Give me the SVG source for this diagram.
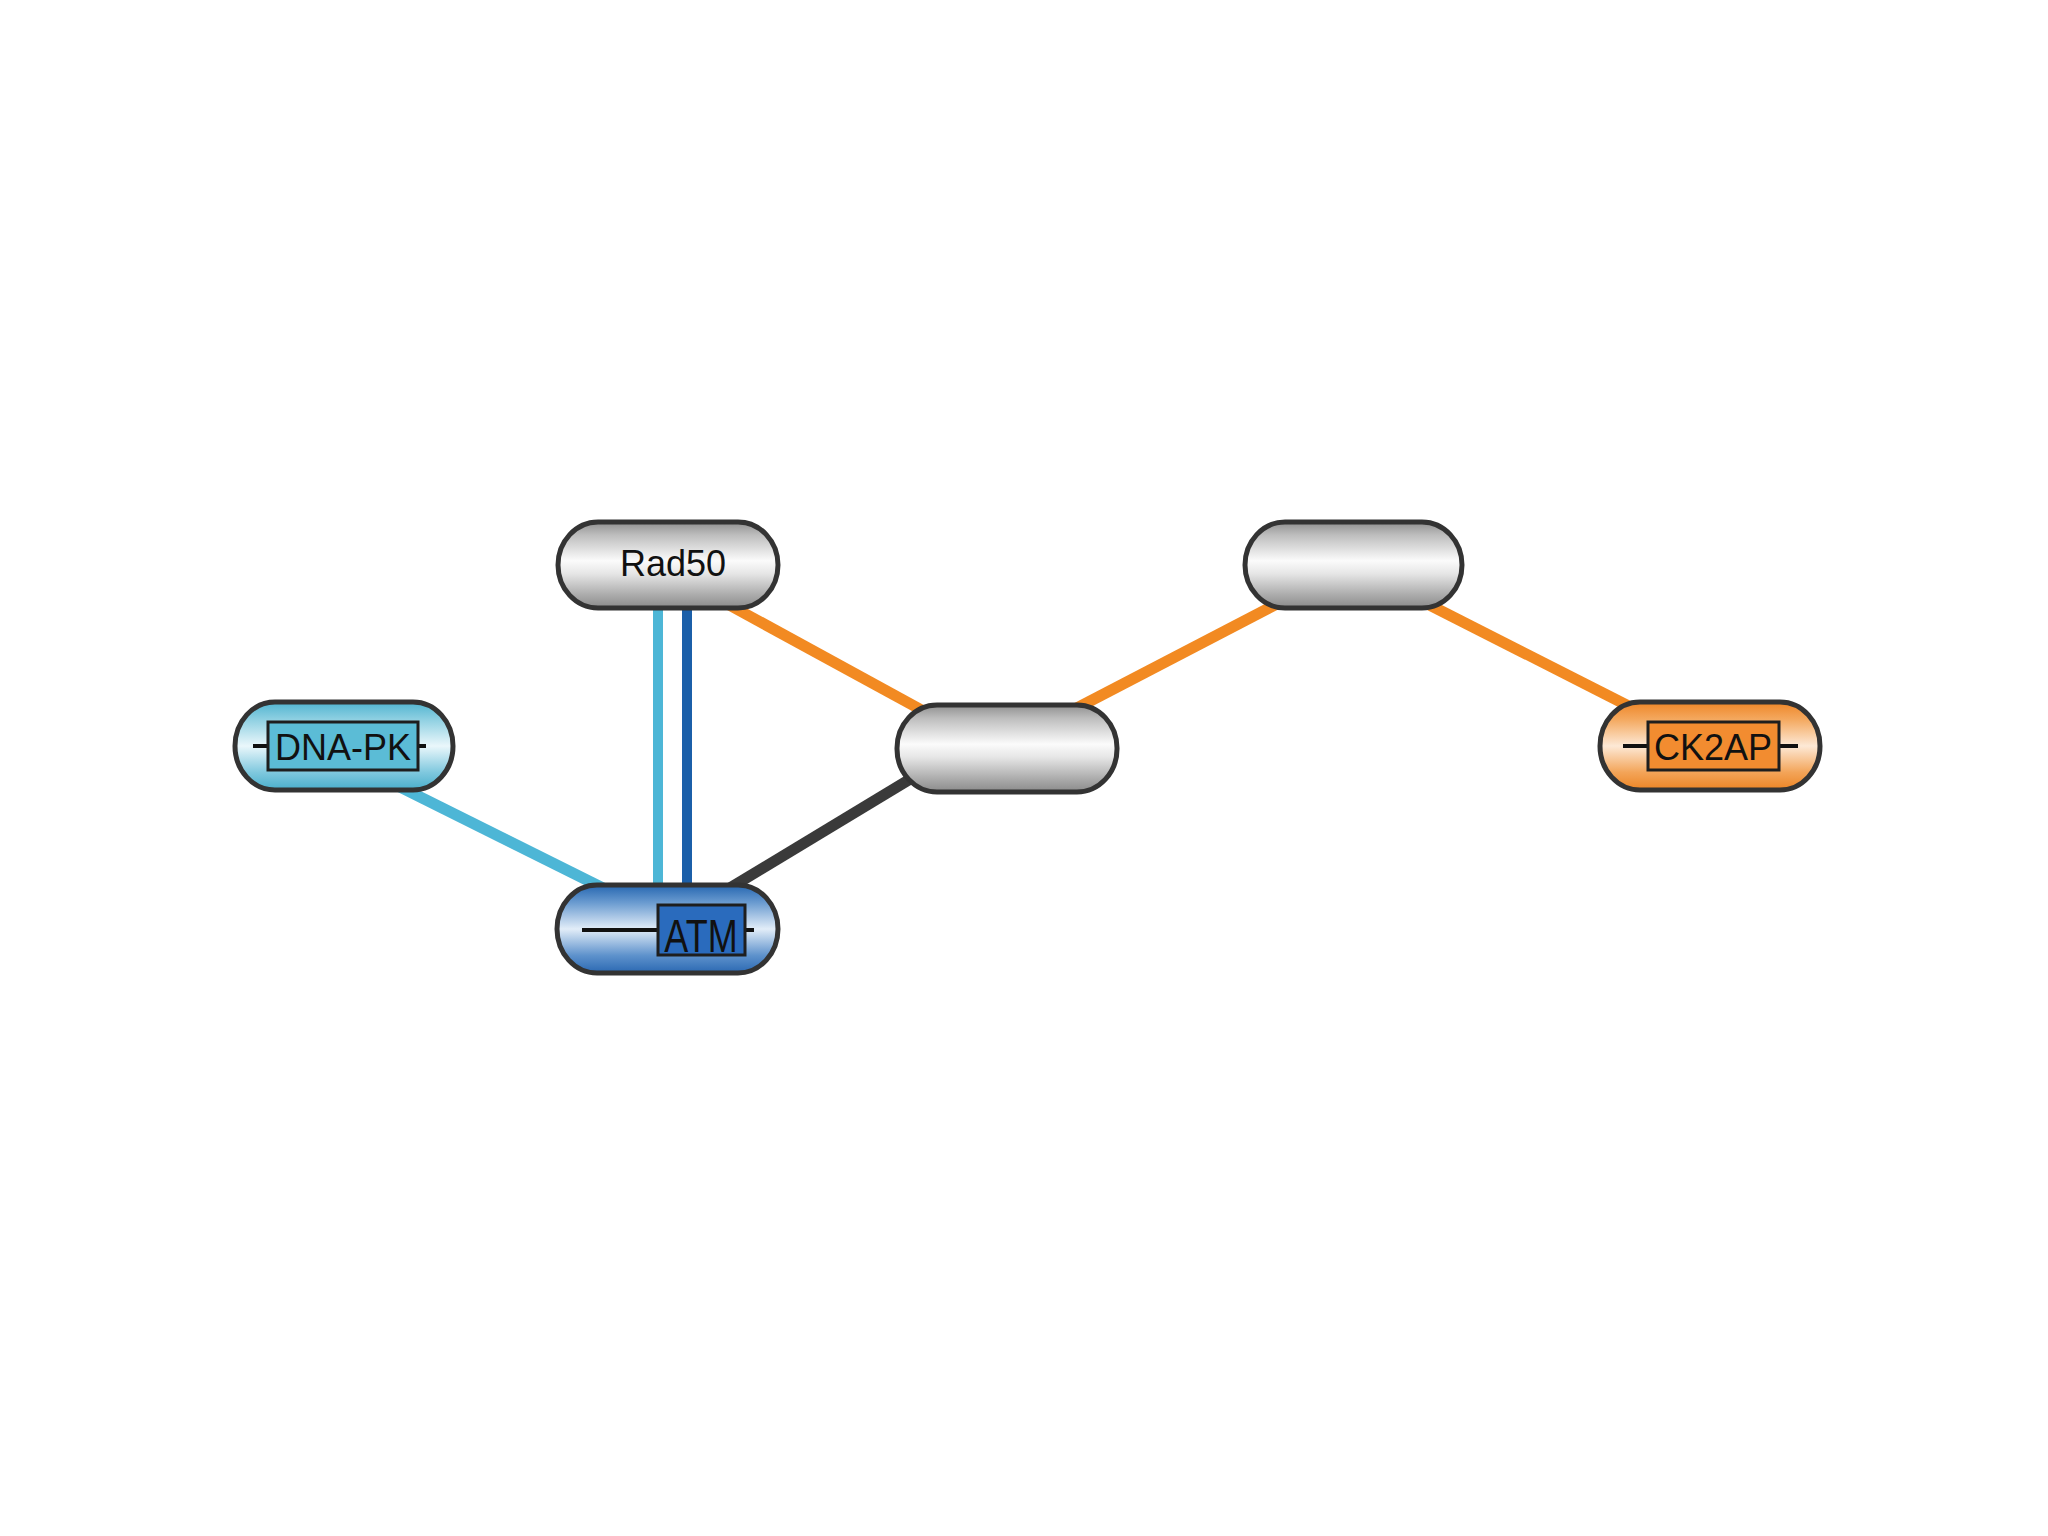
<svg xmlns="http://www.w3.org/2000/svg" width="2048" height="1536" viewBox="0 0 2048 1536">
<defs>
<linearGradient id="gGray" x1="0" y1="0" x2="0" y2="1">
<stop offset="0" stop-color="#8f8f8f"/>
<stop offset="0.15" stop-color="#bdbdbd"/>
<stop offset="0.45" stop-color="#fbfbfb"/>
<stop offset="0.6" stop-color="#e6e6e6"/>
<stop offset="0.85" stop-color="#ababab"/>
<stop offset="1" stop-color="#8a8a8a"/>
</linearGradient>
<linearGradient id="gLBlue" x1="0" y1="0" x2="0" y2="1">
<stop offset="0" stop-color="#4fb4d0"/>
<stop offset="0.2" stop-color="#8fd0e2"/>
<stop offset="0.5" stop-color="#eaf7fb"/>
<stop offset="0.8" stop-color="#7fc8de"/>
<stop offset="1" stop-color="#49aecb"/>
</linearGradient>
<linearGradient id="gDBlue" x1="0" y1="0" x2="0" y2="1">
<stop offset="0" stop-color="#2566b0"/>
<stop offset="0.2" stop-color="#6a9bd0"/>
<stop offset="0.5" stop-color="#e2edf8"/>
<stop offset="0.8" stop-color="#5e92cc"/>
<stop offset="1" stop-color="#2a68b2"/>
</linearGradient>
<linearGradient id="gOrange" x1="0" y1="0" x2="0" y2="1">
<stop offset="0" stop-color="#ee8526"/>
<stop offset="0.2" stop-color="#f4a960"/>
<stop offset="0.5" stop-color="#fde9d6"/>
<stop offset="0.8" stop-color="#f3a458"/>
<stop offset="1" stop-color="#ec8424"/>
</linearGradient>
<style>
.node{stroke:#333333;stroke-width:5}
.box{stroke:#1e1e1e;stroke-width:3}
.tick{stroke:#111111;stroke-width:4}
.lbl{font-family:"Liberation Sans",Arial,sans-serif;font-size:36px;fill:#111111;text-anchor:middle}
.e{fill:none;stroke-linecap:butt}
</style>
</defs>
<rect width="2048" height="1536" fill="#ffffff"/>
<g id="connectors">
<line class="e" x1="658" y1="600" x2="658" y2="895" stroke="#4db6d6" stroke-width="10"/>
<line class="e" x1="687" y1="600" x2="687" y2="895" stroke="#1b5fa9" stroke-width="10"/>
<line class="e" x1="700" y1="589" x2="960" y2="731" stroke="#f28a22" stroke-width="11"/>
<line class="e" x1="940" y1="761" x2="710" y2="900" stroke="#3a3a3a" stroke-width="11"/>
<line class="e" x1="372" y1="773" x2="635" y2="904" stroke="#4db6d6" stroke-width="11"/>
<line class="e" x1="1050" y1="722" x2="1300" y2="592" stroke="#f28a22" stroke-width="11"/>
<line class="e" x1="1400" y1="590" x2="1660" y2="722" stroke="#f28a22" stroke-width="11"/>
</g>
<g id="node-rad50">
<rect class="node" x="558" y="522" width="220" height="86" rx="40" ry="43" fill="url(#gGray)"/>
<text class="lbl" x="673" y="576">Rad50</text>
</g>
<g id="node-top-right">
<rect class="node" x="1245" y="522" width="217" height="86" rx="40" ry="43" fill="url(#gGray)"/>
</g>
<g id="node-middle">
<rect class="node" x="897" y="705" width="220" height="87" rx="40" ry="43" fill="url(#gGray)"/>
</g>
<g id="node-dnapk">
<rect class="node" x="235" y="702" width="218" height="88" rx="40" ry="44" fill="url(#gLBlue)"/>
<line class="tick" x1="253" y1="746" x2="268" y2="746"/>
<line class="tick" x1="418" y1="746" x2="426" y2="746"/>
<rect class="box" x="268" y="722" width="150" height="48" fill="#5bbcd6"/>
<text class="lbl" x="343" y="760">DNA-PK</text>
</g>
<g id="node-atm">
<rect class="node" x="557" y="885" width="221" height="88" rx="40" ry="44" fill="url(#gDBlue)"/>
<line class="tick" x1="582" y1="930" x2="658" y2="930"/>
<line class="tick" x1="745" y1="930" x2="754" y2="930"/>
<rect class="box" x="658" y="905" width="87" height="50" fill="#2a6bbd"/>
<text class="lbl" transform="translate(701,952) scale(1,1.3)" x="0" y="0">ATM</text>
</g>
<g id="node-ck2ap">
<rect class="node" x="1600" y="702" width="220" height="88" rx="40" ry="44" fill="url(#gOrange)"/>
<line class="tick" x1="1623" y1="746" x2="1648" y2="746"/>
<line class="tick" x1="1779" y1="746" x2="1798" y2="746"/>
<rect class="box" x="1648" y="722" width="131" height="48" fill="#f28c30"/>
<text class="lbl" x="1713" y="760">CK2AP</text>
</g>
</svg>
